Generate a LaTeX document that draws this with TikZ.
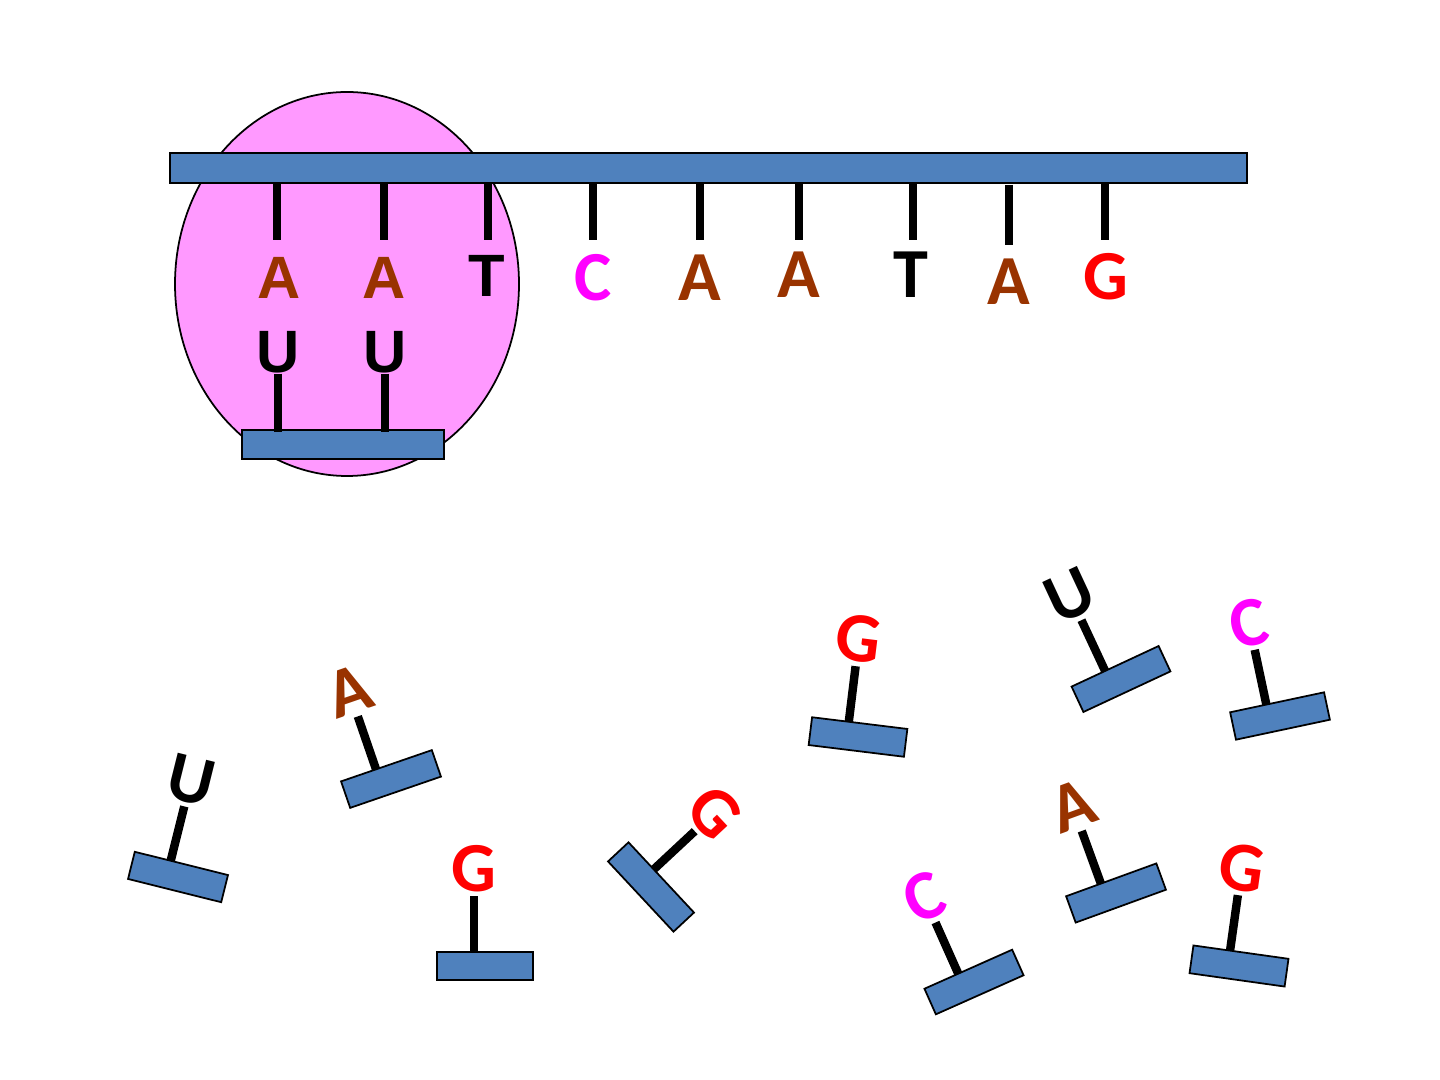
\documentclass[tikz,border=0pt]{standalone}
\usepackage{fontspec}
\setmainfont{Carlito}
\newfontfamily\arialfont{Liberation Sans}
\definecolor{brinbleu}{HTML}{4F81BD}
\definecolor{rose}{HTML}{FF99FF}
\definecolor{adenine}{HTML}{993300}
\definecolor{cytosine}{HTML}{FF00FF}
\definecolor{guanine}{HTML}{FF0000}
\tikzset{
	brin/.style={draw=black, line width=0.5pt, fill=brinbleu},
	tige/.style={line width=2.4pt},
	base/.style={font=\fontsize{20}{22}\selectfont\bfseries, inner sep=0pt},
	basearial/.style={font=\arialfont\fontsize{17}{19}\selectfont\bfseries, inner sep=0pt},
}
% ARNt libre : centre x, centre y, angle, lettre, couleur, nom
\newcommand{\arnt}[6]{
	\begin{scope}[shift={(#1,#2)}, rotate=#3]
		\draw[tige] (-11,-14) -- (-11,-70) node[base, anchor=south, text=#5, rotate=#3] (#6) {#4};
		\draw[brin] (-48,-14) rectangle (48,14);
	\end{scope}
}

\begin{document}
\begin{tikzpicture}[x=0.01cm, y=-0.01cm]
	\useasboundingbox (0,0) rectangle (1440,1080);
	% ribosome
	\draw[fill=rose, line width=0.5pt] (347,284) ellipse [x radius=172, y radius=192];
	% brin d'ADN et ses bases
	\foreach \x/\b in {277/180, 384/180, 488/180, 593/180, 700/180, 799/180, 913/180, 1009/185, 1105/180}
		\draw[tige] (\x,\b) -- (\x,\b+60);
	\draw[brin] (170,153) rectangle (1247,183);
	\node[basearial, text=adenine] (b1) at (279,278) {A};
	\node[basearial, text=adenine] (b2) at (384,278) {A};
	\node[basearial] (b3) at (487,276) {T};
	\foreach \x/\y/\l/\c/\n in {593/278/C/cytosine/b4, 700/278/A/adenine/b5, 799/275/A/adenine/b6, 911/275/T/black/b7, 1009/282/A/adenine/b8, 1106/277/G/guanine/b9}
		\node[base, text=\c] (\n) at (\x,\y) {\l};
	% ARNt fixes
	\draw[brin] (242,430) rectangle (444,459);
	\node[basearial] (u1) at (278,352) {U};
	\node[basearial] (u2) at (385,352) {U};
	\draw[tige] (u1.south) -- (u1.south |- 0,432);
	\draw[tige] (u2.south) -- (u2.south |- 0,432);
	% ARNt libres
	\arnt{178}{877}{-14}{U}{black}{l1}
	\arnt{391}{779}{19}{A}{adenine}{l2}
	\arnt{485}{966}{0}{G}{guanine}{l3}
	\arnt{651}{887}{-47}{G}{guanine}{l4}
	\arnt{858}{737}{-7}{G}{guanine}{l5}
	\arnt{1121}{679}{25}{U}{black}{l6}
	\arnt{1280}{716}{12}{C}{cytosine}{l7}
	\arnt{1116}{893}{20}{A}{adenine}{l8}
	\arnt{974}{982}{24}{C}{cytosine}{l9}
	\arnt{1239}{966}{-8}{G}{guanine}{l10}
\end{tikzpicture}
\end{document}
